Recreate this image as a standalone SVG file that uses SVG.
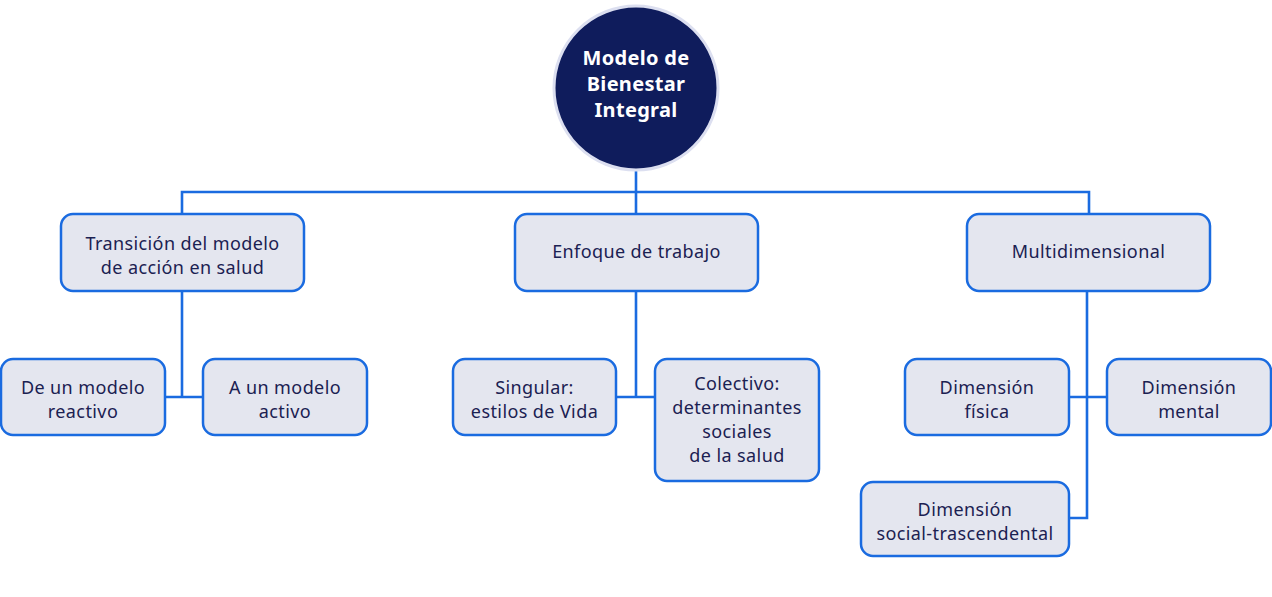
<svg xmlns="http://www.w3.org/2000/svg" width="1272" height="597" viewBox="0 0 1272 597">
<style>
.box{fill:#e4e6ef;stroke:#1a6be0;stroke-width:2.5}
.t{font-family:"Noto Sans","Open Sans",sans-serif;font-size:18px;letter-spacing:0.4px;fill:#1b2152;text-anchor:middle}
.title{font-family:"Noto Sans","Open Sans",sans-serif;font-size:20px;letter-spacing:0.3px;font-weight:bold;fill:#ffffff;text-anchor:middle}
.c{fill:none;stroke:#1a6be0;stroke-width:2.6}
</style>
<rect width="1272" height="597" fill="#ffffff"/>
<g id="connectors">
<line class="c" x1="636" y1="170" x2="636" y2="214" stroke-width="4"/>
<polyline class="c" points="182,214 182,192 1089,192 1089,214"/>
<polyline class="c" points="182,291 182,397"/>
<line class="c" x1="165" y1="397" x2="203" y2="397"/>
<line class="c" x1="636" y1="291" x2="636" y2="397"/>
<line class="c" x1="616" y1="397" x2="655" y2="397"/>
<polyline class="c" points="1087,291 1087,518 1069,518"/>
<line class="c" x1="1069" y1="397" x2="1107" y2="397"/>
</g>
<g id="root">
<circle cx="636" cy="88" r="82" fill="#0f1c5c" stroke="#dcdff0" stroke-width="3"/>
<text class="title" x="636" y="65">Modelo de</text>
<text class="title" x="636" y="91">Bienestar</text>
<text class="title" x="636" y="117">Integral</text>
</g>
<g id="transicion">
<rect class="box" x="61" y="214" width="243" height="77" rx="12"/>
<text class="t" x="182.5" y="250">Transición del modelo</text>
<text class="t" x="182.5" y="274">de acción en salud</text>
</g>
<g id="enfoque">
<rect class="box" x="515" y="214" width="243" height="77" rx="12"/>
<text class="t" x="636.5" y="258">Enfoque de trabajo</text>
</g>
<g id="multidimensional">
<rect class="box" x="967" y="214" width="243" height="77" rx="12"/>
<text class="t" x="1088.5" y="258">Multidimensional</text>
</g>
<g id="reactivo">
<rect class="box" x="1" y="359" width="164" height="76" rx="12"/>
<text class="t" x="83" y="394">De un modelo</text>
<text class="t" x="83" y="418">reactivo</text>
</g>
<g id="activo">
<rect class="box" x="203" y="359" width="164" height="76" rx="12"/>
<text class="t" x="285" y="394">A un modelo</text>
<text class="t" x="285" y="418">activo</text>
</g>
<g id="singular">
<rect class="box" x="453" y="359" width="163" height="76" rx="12"/>
<text class="t" x="534.5" y="394">Singular:</text>
<text class="t" x="534.5" y="418">estilos de Vida</text>
</g>
<g id="colectivo">
<rect class="box" x="655" y="359" width="164" height="122" rx="12"/>
<text class="t" x="737" y="390">Colectivo:</text>
<text class="t" x="737" y="414">determinantes</text>
<text class="t" x="737" y="438">sociales</text>
<text class="t" x="737" y="462">de la salud</text>
</g>
<g id="fisica">
<rect class="box" x="905" y="359" width="164" height="76" rx="12"/>
<text class="t" x="987" y="394">Dimensión</text>
<text class="t" x="987" y="418">física</text>
</g>
<g id="mental">
<rect class="box" x="1107" y="359" width="164" height="76" rx="12"/>
<text class="t" x="1189" y="394">Dimensión</text>
<text class="t" x="1189" y="418">mental</text>
</g>
<g id="social">
<rect class="box" x="861" y="482" width="208" height="74" rx="12"/>
<text class="t" x="965" y="516">Dimensión</text>
<text class="t" x="965" y="540">social-trascendental</text>
</g>
</svg>
